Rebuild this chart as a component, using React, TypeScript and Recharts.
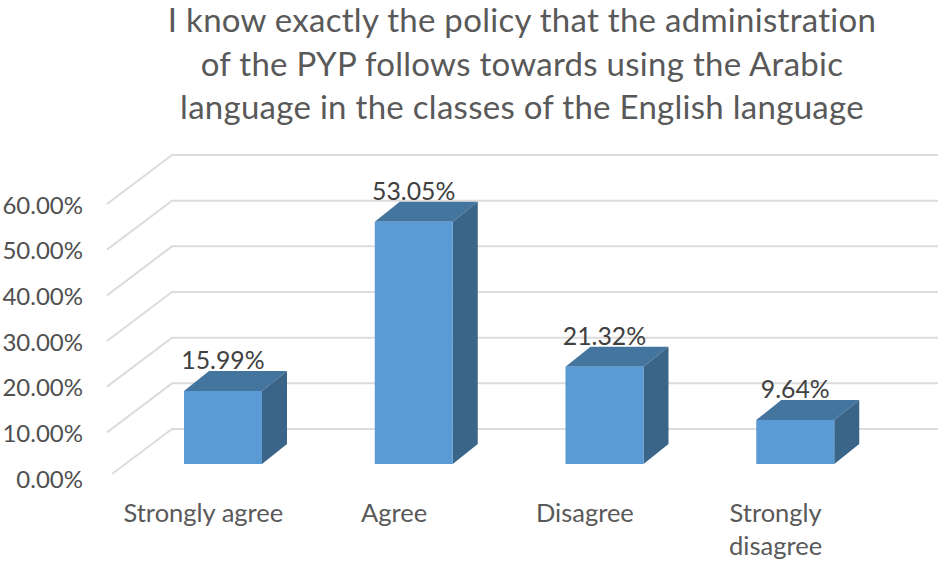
import { BarChart, Bar, XAxis, YAxis, CartesianGrid, LabelList } from 'recharts';

const titleLines = [
  'I know exactly the policy that the administration',
  'of the PYP follows towards using the Arabic',
  'language in the classes of the English language',
];
const categories = ['Strongly agree', 'Agree', 'Disagree', 'Strongly disagree'];
const shares = [15.99, 53.05, 21.32, 9.64];
const yTicks = [0, 10, 20, 30, 40, 50, 60];

const chartData = categories.map((name, i) => ({ name, share: shares[i] }));

const FONT = 'Lato, sans-serif';
const DEPTH_X = 25;
const DEPTH_Y = 20;

// fake 3D column: front face plus top and side faces
function Column3D({ x, y, width, height }: any) {
  const right = x + width;
  const bottom = y + height;
  return (
    <g>
      <polygon
        points={`${x},${y} ${x + DEPTH_X},${y - DEPTH_Y} ${right + DEPTH_X},${y - DEPTH_Y} ${right},${y}`}
        fill="#44759F"
      />
      <polygon
        points={`${right},${y} ${right + DEPTH_X},${y - DEPTH_Y} ${right + DEPTH_X},${bottom - DEPTH_Y} ${right},${bottom}`}
        fill="#3A6488"
      />
      <rect x={x} y={y} width={width} height={height} fill="#5B9BD5" />
    </g>
  );
}

// gridline on the back wall with the diagonal running down the side wall
function WallLine({ y1, index }: any) {
  const backY = y1 - 35;
  const isFloor = y1 > 460;
  return (
    <g key={index} fill="none" stroke="#DCDCDC" strokeWidth={2}>
      <polyline
        points={`${isFloor ? 112 : 107},${backY + (isFloor ? 45 : 49)} 172,${backY} 938,${backY}`}
      />
    </g>
  );
}

function YTick({ y, payload }: any) {
  return (
    <text x={83} y={y + 14} textAnchor="end" dominantBaseline="central" fontSize={24} fontFamily={FONT} fill="#505050">
      {payload.value.toFixed(2)}%
    </text>
  );
}

function XTick({ x, payload }: any) {
  const label: string = payload.value;
  const lines = label.length > 14 ? label.split(' ') : [label];
  return (
    <text textAnchor="middle" fontSize={25.5} fontFamily={FONT} fill="#595959">
      {lines.map((line, i) => (
        <tspan key={line} x={x - 20} y={522 + i * 33}>
          {line}
        </tspan>
      ))}
    </text>
  );
}

export default function App() {
  return (
    <div style={{ position: 'absolute', left: 0, top: 0, width: 944, height: 561, background: '#FFFFFF' }}>
      <div
        style={{
          position: 'absolute',
          left: 0,
          top: -2,
          width: 1044,
          textAlign: 'center',
          fontFamily: FONT,
          fontSize: 33,
          letterSpacing: 0.28,
          lineHeight: '43.5px',
          color: '#595959',
          whiteSpace: 'nowrap',
        }}
      >
        {titleLines.map((line) => (
          <div key={line}>{line}</div>
        ))}
      </div>
      <BarChart
        width={944}
        height={561}
        data={chartData}
        barCategoryGap={0}
        barSize={78}
        margin={{ top: 190, right: 53, bottom: 0, left: 0 }}
        style={{ position: 'absolute', left: 0, top: 0 }}
      >
        <CartesianGrid vertical={false} horizontal={(props: any) => <WallLine {...props} />} />
        <XAxis dataKey="name" height={97} axisLine={false} tickLine={false} tick={<XTick />} interval={0} />
        <YAxis width={128} domain={[0, 60]} ticks={yTicks} axisLine={false} tickLine={false} tick={<YTick />} />
        <Bar dataKey="share" shape={<Column3D />} isAnimationActive={false}>
          <LabelList
            dataKey="share"
            position="top"
            offset={22}
            formatter={(v: any) => `${v.toFixed(2)}%`}
            fontSize={24.8}
            fontFamily={FONT}
            fill="#404040"
          />
        </Bar>
      </BarChart>
    </div>
  );
}
